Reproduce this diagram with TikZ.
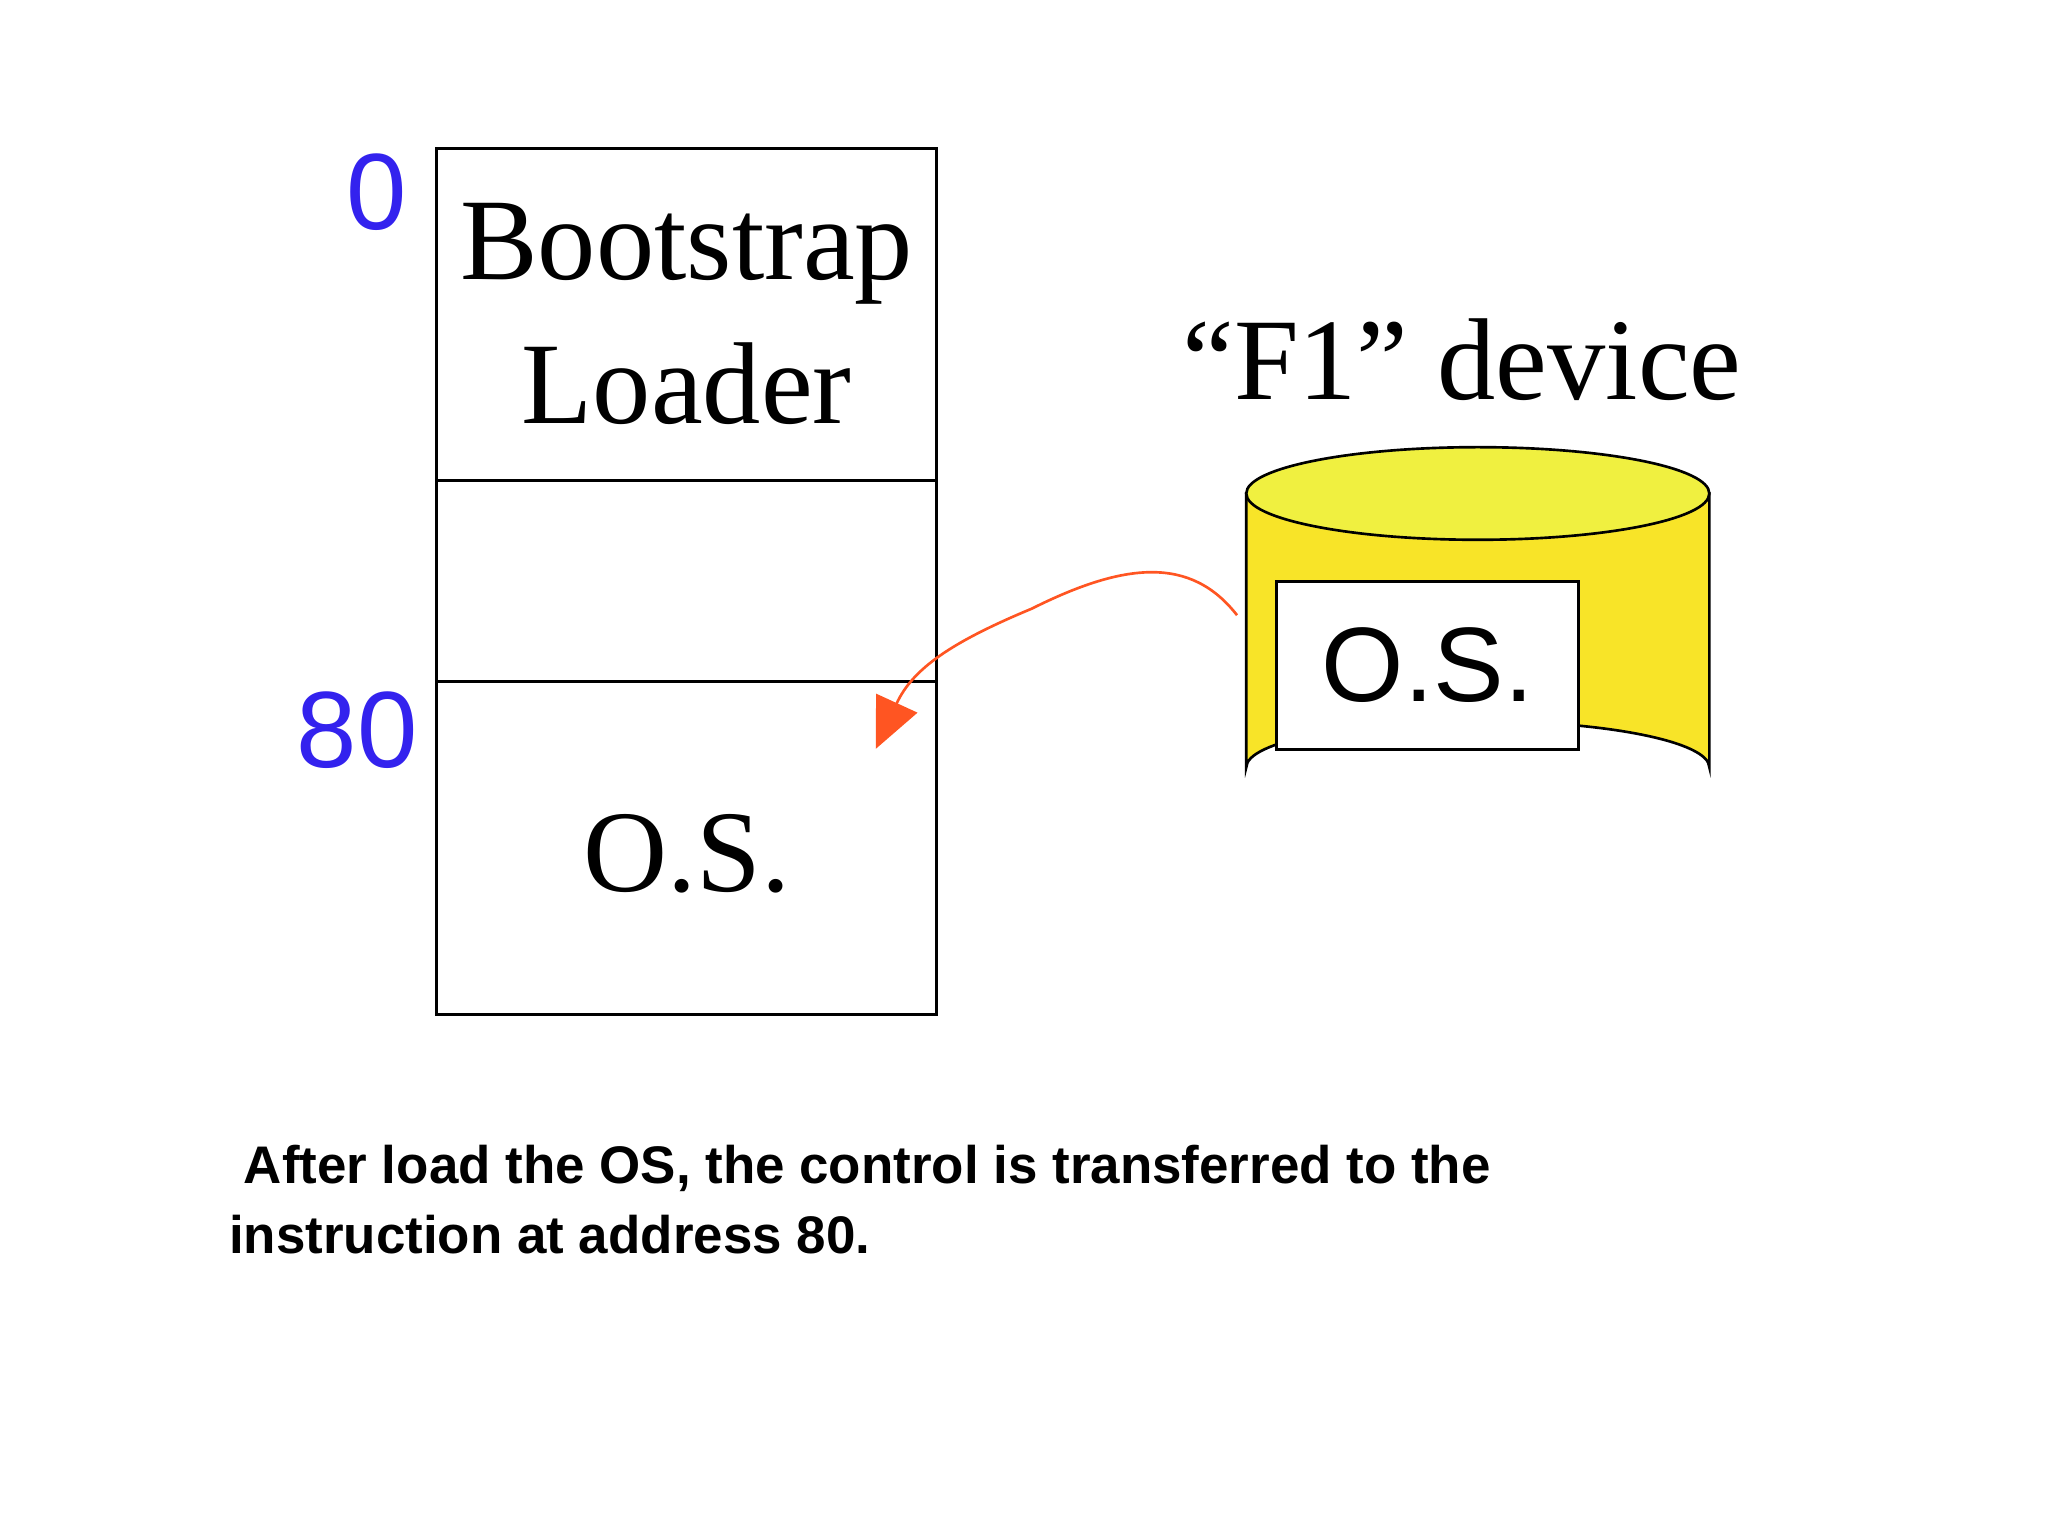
\documentclass[tikz,border=0pt]{standalone}
\usepackage{fontspec}
\setmainfont{Liberation Serif}
\setsansfont{Liberation Sans}
\usetikzlibrary{arrows.meta}
\definecolor{numblue}{HTML}{3322EE}
\definecolor{arrowor}{HTML}{FF5522}
\definecolor{cyltop}{HTML}{F0F040}
\definecolor{cylbody}{HTML}{F8E428}
\tikzset{
  memline/.style={line width=2.5pt},
  bigserif/.style={font=\fontsize{88}{96}\selectfont},
  num/.style={text=numblue,font=\sffamily\fontsize{82}{90}\selectfont},
}
\begin{document}
\begin{tikzpicture}[x=1pt,y=-1pt]
\useasboundingbox[fill=white] (0,0) rectangle (1548,1161);
% memory
\draw[memline] (330,112) rectangle (708,767);
\coordinate (d1l) at (330,363); \coordinate (d1r) at (708,363);
\coordinate (d2l) at (330,515); \coordinate (d2r) at (708,515);
\draw[memline] (d1l) -- (d1r);
\draw[memline] (d2l) -- (d2r);
\node[bigserif] (boot) at (519,192) {Bootstrap};
\node[bigserif] (load) at (519,290) {Loader};
\node[bigserif] (os1) at (519,645) {O.S.};
\node[num] (n0) at (285,145) {0};
\node[num] (n80) at (270,552) {80};
% device
\node[bigserif] (dev) at (1105,272) {“F1” device};
\fill[cylbody,draw=black,line width=2pt] (942,373) -- (942,580) arc[start angle=180,end angle=360,x radius=175,y radius=35] -- (1292,373) -- cycle;
\draw[fill=cyltop,line width=2pt] (1117,373) ellipse[x radius=175,y radius=35];
\node[draw,line width=2.5pt,fill=white,minimum width=228pt,minimum height=127pt,font=\sffamily\fontsize{80}{88}\selectfont] (os2) at (1079,503) {O.S.};
% arrow
\coordinate (as) at (935,465);
\coordinate (ae) at (662,566);
\draw[arrowor,line width=2pt,-{Triangle[length=38pt,width=34pt]}] (as) .. controls (900,420) and (850,425) .. (780,460) .. controls (720,485) and (690,505) .. (ae);
% caption
\node[anchor=north west,align=left,font=\sffamily\bfseries\fontsize{40}{53}\selectfont,inner sep=0pt] (cap) at (173,865) {\ After load the OS, the control is transferred to the\\instruction at address 80.};
\end{tikzpicture}
\end{document}
